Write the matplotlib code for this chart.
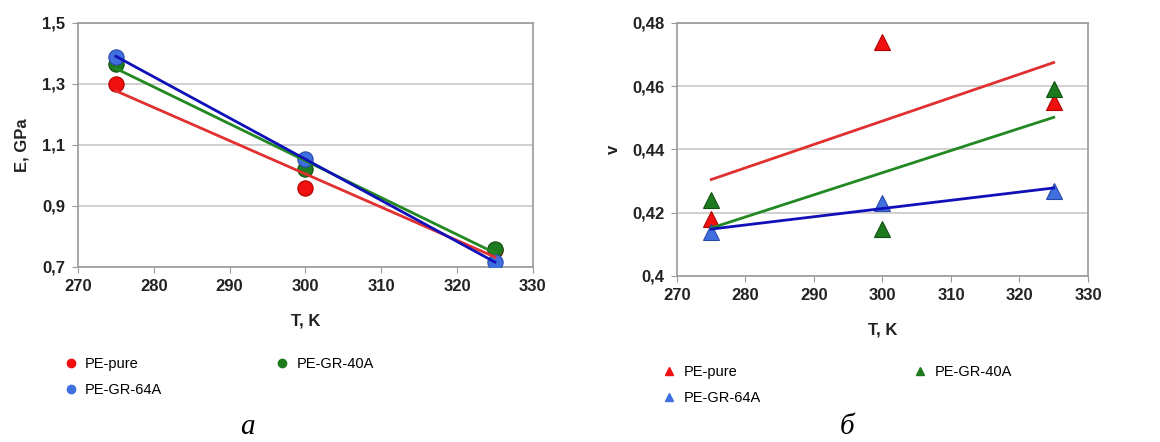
import matplotlib.pyplot as plt
import numpy as np

plt.rcParams['font.family'] = ['Liberation Sans', 'DejaVu Sans']

# data
T = [275, 300, 325]
series = ['PE-pure', 'PE-GR-64A', 'PE-GR-40A']
E_pure = [1.30, 0.96, 0.755]
E_64a = [1.39, 1.055, 0.715]
E_40a = [1.365, 1.02, 0.76]
v_pure = [0.418, 0.474, 0.455]
v_64a = [0.414, 0.423, 0.427]
v_40a = [0.424, 0.415, 0.459]

mcol = {'PE-pure': '#f01010', 'PE-GR-64A': '#4070e0', 'PE-GR-40A': '#1e7a1e'}
ecol = {'PE-pure': '#b00000', 'PE-GR-64A': '#2a4aa8', 'PE-GR-40A': '#105010'}
lcol = {'PE-pure': '#e03030', 'PE-GR-64A': '#1010b8', 'PE-GR-40A': '#228822'}

fig = plt.figure(figsize=(11.6, 4.42), dpi=100)
ax1 = fig.add_axes([0.0672, 0.396, 0.3922, 0.552])
ax2 = fig.add_axes([0.5836, 0.3756, 0.3543, 0.5724])


def style(ax, ylim, yticks, fmt):
    ax.set_xlim(270, 330)
    ax.set_ylim(*ylim)
    ax.set_xticks(range(270, 331, 10))
    ax.set_yticks(yticks)
    ax.set_yticklabels([fmt(t).replace('.', ',') for t in yticks])
    for lab in ax.get_xticklabels() + ax.get_yticklabels():
        lab.set_fontweight('bold')
        lab.set_fontsize(12)
        lab.set_color('#222222')
    ax.grid(axis='y', color='#c8c8c8', linewidth=1.2)
    ax.set_axisbelow(True)
    for s in ax.spines.values():
        s.set_color('#9a9a9a')
        s.set_linewidth(1.2)
    ax.tick_params(direction='out', length=4, color='#9a9a9a', pad=5)
    ax.set_xlabel('T, K', fontweight='bold', fontsize=12, labelpad=14, color='#222222')


# chart a
dataE = {'PE-pure': E_pure, 'PE-GR-64A': E_64a, 'PE-GR-40A': E_40a}
for name in ['PE-pure', 'PE-GR-40A', 'PE-GR-64A']:
    y = dataE[name]
    ax1.plot(T, y, 'o', ms=11, color=mcol[name], mec=ecol[name], mew=0.8, zorder=3)
for name in ['PE-pure', 'PE-GR-40A', 'PE-GR-64A']:
    k, b = np.polyfit(T, dataE[name], 1)
    ax1.plot([275, 325], [k * 275 + b, k * 325 + b], color=lcol[name], lw=2, zorder=4)
style(ax1, (0.7, 1.5), [0.7, 0.9, 1.1, 1.3, 1.5], lambda t: '%.1f' % t)
ax1.set_ylabel('E, GPa', fontweight='bold', fontsize=12, labelpad=9, color='#222222')

# chart б
dataV = {'PE-pure': v_pure, 'PE-GR-64A': v_64a, 'PE-GR-40A': v_40a}
for name in ['PE-pure', 'PE-GR-40A', 'PE-GR-64A']:
    y = dataV[name]
    ax2.plot(T, y, '^', ms=11, color=mcol[name], mec=ecol[name], mew=0.8, zorder=3)
for name in ['PE-pure', 'PE-GR-40A', 'PE-GR-64A']:
    k, b = np.polyfit(T, dataV[name], 1)
    ax2.plot([275, 325], [k * 275 + b, k * 325 + b], color=lcol[name], lw=2, zorder=4)
style(ax2, (0.4, 0.48), [0.4, 0.42, 0.44, 0.46, 0.48],
      lambda t: ('%.2f' % t).rstrip('0'))
ax2.set_ylabel('v', fontweight='bold', fontsize=12, labelpad=8, color='#222222')

# legends
for ax, mk, anchor, csp in [(ax1, 'o', (0.042, 0.222), 7.6), (ax2, '^', (0.558, 0.203), 10.3)]:
    handles = [plt.Line2D([], [], ls='none', marker=mk, ms=6, color=mcol[n], mec=mcol[n])
               for n in series]
    fig.legend(handles, series, loc='upper left', bbox_to_anchor=anchor, ncol=2,
               frameon=False, fontsize=10.5, columnspacing=csp, handletextpad=0.4,
               labelspacing=0.8, handlelength=1.2)

fig.text(0.213, 0.005, 'a', fontsize=21, style='italic', family='Liberation Serif',
         ha='center', va='bottom')
fig.text(0.73, 0.005, 'б', fontsize=21, style='italic', family='Liberation Serif',
         ha='center', va='bottom')

fig.savefig('out.png', dpi=100)
